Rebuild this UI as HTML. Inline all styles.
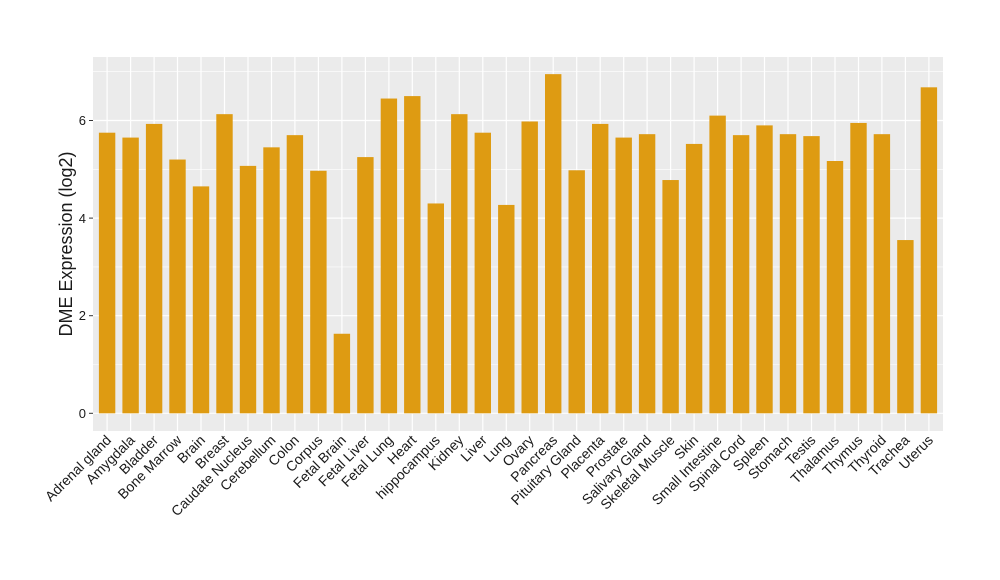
<!DOCTYPE html>
<html><head><meta charset="utf-8"><style>body{margin:0;background:#fff}svg{display:block}text{font-family:"Liberation Sans",sans-serif;fill:#1a1a1a}</style></head><body>
<svg width="1000" height="580" viewBox="0 0 1000 580">
<rect x="93" y="57" width="850" height="374" fill="#ebebeb"/>
<g stroke="#fff" stroke-width="0.6">
<line x1="93" x2="943" y1="364.5" y2="364.5"/><line x1="93" x2="943" y1="266.9" y2="266.9"/><line x1="93" x2="943" y1="169.3" y2="169.3"/><line x1="93" x2="943" y1="71.7" y2="71.7"/>
</g>
<g stroke="#fff" stroke-width="1.2">
<line x1="93" x2="943" y1="413.3" y2="413.3"/><line x1="93" x2="943" y1="315.7" y2="315.7"/><line x1="93" x2="943" y1="218.1" y2="218.1"/><line x1="93" x2="943" y1="120.5" y2="120.5"/>
<line y1="57" y2="431" x1="107.1" x2="107.1"/><line y1="57" y2="431" x1="130.6" x2="130.6"/><line y1="57" y2="431" x1="154.1" x2="154.1"/><line y1="57" y2="431" x1="177.5" x2="177.5"/><line y1="57" y2="431" x1="201" x2="201"/><line y1="57" y2="431" x1="224.5" x2="224.5"/><line y1="57" y2="431" x1="248" x2="248"/><line y1="57" y2="431" x1="271.5" x2="271.5"/><line y1="57" y2="431" x1="294.9" x2="294.9"/><line y1="57" y2="431" x1="318.4" x2="318.4"/><line y1="57" y2="431" x1="341.9" x2="341.9"/><line y1="57" y2="431" x1="365.4" x2="365.4"/><line y1="57" y2="431" x1="388.9" x2="388.9"/><line y1="57" y2="431" x1="412.3" x2="412.3"/><line y1="57" y2="431" x1="435.8" x2="435.8"/><line y1="57" y2="431" x1="459.3" x2="459.3"/><line y1="57" y2="431" x1="482.8" x2="482.8"/><line y1="57" y2="431" x1="506.3" x2="506.3"/><line y1="57" y2="431" x1="529.7" x2="529.7"/><line y1="57" y2="431" x1="553.2" x2="553.2"/><line y1="57" y2="431" x1="576.7" x2="576.7"/><line y1="57" y2="431" x1="600.2" x2="600.2"/><line y1="57" y2="431" x1="623.7" x2="623.7"/><line y1="57" y2="431" x1="647.1" x2="647.1"/><line y1="57" y2="431" x1="670.6" x2="670.6"/><line y1="57" y2="431" x1="694.1" x2="694.1"/><line y1="57" y2="431" x1="717.6" x2="717.6"/><line y1="57" y2="431" x1="741.1" x2="741.1"/><line y1="57" y2="431" x1="764.5" x2="764.5"/><line y1="57" y2="431" x1="788" x2="788"/><line y1="57" y2="431" x1="811.5" x2="811.5"/><line y1="57" y2="431" x1="835" x2="835"/><line y1="57" y2="431" x1="858.5" x2="858.5"/><line y1="57" y2="431" x1="881.9" x2="881.9"/><line y1="57" y2="431" x1="905.4" x2="905.4"/><line y1="57" y2="431" x1="928.9" x2="928.9"/>
</g>
<g transform="translate(0,413.3) scale(1,-48.8)" fill="#de9b12">
<rect x="98.9" width="16.4" y="0" height="5.75"/><rect x="122.4" width="16.4" y="0" height="5.65"/><rect x="145.9" width="16.4" y="0" height="5.93"/><rect x="169.3" width="16.4" y="0" height="5.2"/><rect x="192.8" width="16.4" y="0" height="4.65"/><rect x="216.3" width="16.4" y="0" height="6.13"/><rect x="239.8" width="16.4" y="0" height="5.07"/><rect x="263.3" width="16.4" y="0" height="5.45"/><rect x="286.7" width="16.4" y="0" height="5.7"/><rect x="310.2" width="16.4" y="0" height="4.97"/><rect x="333.7" width="16.4" y="0" height="1.63"/><rect x="357.2" width="16.4" y="0" height="5.25"/><rect x="380.7" width="16.4" y="0" height="6.45"/><rect x="404.1" width="16.4" y="0" height="6.5"/><rect x="427.6" width="16.4" y="0" height="4.3"/><rect x="451.1" width="16.4" y="0" height="6.13"/><rect x="474.6" width="16.4" y="0" height="5.75"/><rect x="498.1" width="16.4" y="0" height="4.27"/><rect x="521.5" width="16.4" y="0" height="5.98"/><rect x="545" width="16.4" y="0" height="6.95"/><rect x="568.5" width="16.4" y="0" height="4.98"/><rect x="592" width="16.4" y="0" height="5.93"/><rect x="615.5" width="16.4" y="0" height="5.65"/><rect x="638.9" width="16.4" y="0" height="5.72"/><rect x="662.4" width="16.4" y="0" height="4.78"/><rect x="685.9" width="16.4" y="0" height="5.52"/><rect x="709.4" width="16.4" y="0" height="6.1"/><rect x="732.9" width="16.4" y="0" height="5.7"/><rect x="756.3" width="16.4" y="0" height="5.9"/><rect x="779.8" width="16.4" y="0" height="5.72"/><rect x="803.3" width="16.4" y="0" height="5.68"/><rect x="826.8" width="16.4" y="0" height="5.17"/><rect x="850.3" width="16.4" y="0" height="5.95"/><rect x="873.7" width="16.4" y="0" height="5.72"/><rect x="897.2" width="16.4" y="0" height="3.55"/><rect x="920.7" width="16.4" y="0" height="6.68"/>
</g>
<g stroke="#333" stroke-width="1">
<line x1="89" x2="93" y1="413.3" y2="413.3"/><line x1="89" x2="93" y1="315.7" y2="315.7"/><line x1="89" x2="93" y1="218.1" y2="218.1"/><line x1="89" x2="93" y1="120.5" y2="120.5"/>
</g>
<g font-size="13" text-anchor="end">
<text x="86" y="418">0</text><text x="86" y="320">2</text><text x="86" y="223">4</text><text x="86" y="125">6</text>
</g>
<text transform="translate(72,244) rotate(-90)" font-size="18" text-anchor="middle">DME Expression (log2)</text>
<g font-size="14" text-anchor="end">
<text transform="translate(112,441) rotate(-45)">Adrenal gland</text>
<text transform="translate(135.6,441) rotate(-45)">Amygdala</text>
<text transform="translate(159.1,441) rotate(-45)">Bladder</text>
<text transform="translate(182.5,441) rotate(-45)">Bone Marrow</text>
<text transform="translate(206,441) rotate(-45)">Brain</text>
<text transform="translate(229.5,441) rotate(-45)">Breast</text>
<text transform="translate(253,441) rotate(-45)">Caudate Nucleus</text>
<text transform="translate(276.5,441) rotate(-45)">Cerebellum</text>
<text transform="translate(299.9,441) rotate(-45)">Colon</text>
<text transform="translate(323.4,441) rotate(-45)">Corpus</text>
<text transform="translate(346.9,441) rotate(-45)">Fetal Brain</text>
<text transform="translate(370.4,441) rotate(-45)">Fetal Liver</text>
<text transform="translate(393.9,441) rotate(-45)">Fetal Lung</text>
<text transform="translate(417.3,441) rotate(-45)">Heart</text>
<text transform="translate(440.8,441) rotate(-45)">hippocampus</text>
<text transform="translate(464.3,441) rotate(-45)">Kidney</text>
<text transform="translate(487.8,441) rotate(-45)">Liver</text>
<text transform="translate(511.3,441) rotate(-45)">Lung</text>
<text transform="translate(534.7,441) rotate(-45)">Ovary</text>
<text transform="translate(558.2,441) rotate(-45)">Pancreas</text>
<text transform="translate(581.7,441) rotate(-45)">Pituitary Gland</text>
<text transform="translate(605.2,441) rotate(-45)">Placenta</text>
<text transform="translate(628.7,441) rotate(-45)">Prostate</text>
<text transform="translate(652.1,441) rotate(-45)">Salivary Gland</text>
<text transform="translate(675.6,441) rotate(-45)">Skeletal Muscle</text>
<text transform="translate(699.1,441) rotate(-45)">Skin</text>
<text transform="translate(722.6,441) rotate(-45)">Small Intestine</text>
<text transform="translate(746.1,441) rotate(-45)">Spinal Cord</text>
<text transform="translate(769.5,441) rotate(-45)">Spleen</text>
<text transform="translate(793,441) rotate(-45)">Stomach</text>
<text transform="translate(816.5,441) rotate(-45)">Testis</text>
<text transform="translate(840,441) rotate(-45)">Thalamus</text>
<text transform="translate(863.5,441) rotate(-45)">Thymus</text>
<text transform="translate(886.9,441) rotate(-45)">Thyroid</text>
<text transform="translate(910.4,441) rotate(-45)">Trachea</text>
<text transform="translate(933.9,441) rotate(-45)">Uterus</text>
</g>
</svg>
</body></html>
